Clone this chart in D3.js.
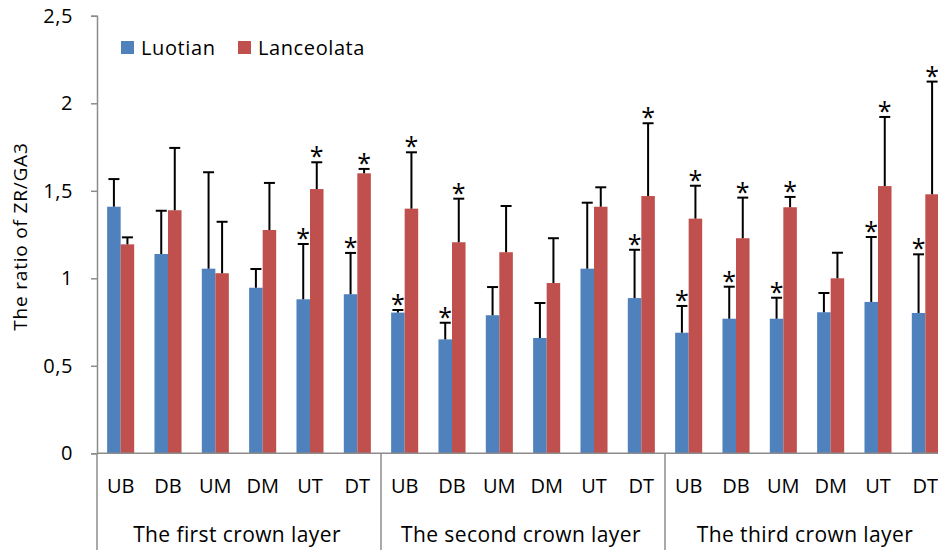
<!DOCTYPE html>
<html><head><meta charset="utf-8">
<script src="https://cdn.jsdelivr.net/npm/d3@7/dist/d3.min.js"></script>
<style>
html,body{margin:0;padding:0;background:#fff;}
svg{display:block;}
text{font-family:"Open Sans",sans-serif;fill:#000;}
</style></head>
<body><svg id="c" width="938" height="550"></svg>
<script>
const categories = ["UB","DB","UM","DM","UT","DT"];
const groups = ["The first crown layer","The second crown layer","The third crown layer"];
const seriesNames = ["Luotian","Lanceolata"];
const yTicks = [0,0.5,1,1.5,2,2.5];
const yTickLabels = ["0","0,5","1","1,5","2","2,5"];
const luotian = [1.409,1.139,1.055,0.946,0.880,0.909, 0.804,0.651,0.789,0.659,1.055,0.887, 0.689,0.769,0.769,0.806,0.865,0.802];
const luotianErr = [0.158,0.247,0.551,0.107,0.316,0.236, 0.015,0.095,0.161,0.200,0.377,0.276, 0.153,0.183,0.120,0.110,0.371,0.335];
const lanceolata = [1.194,1.389,1.029,1.276,1.510,1.600, 1.398,1.206,1.149,0.973,1.409,1.470, 1.341,1.229,1.406,1.000,1.527,1.480];
const lanceolataErr = [0.040,0.356,0.294,0.269,0.153,0.025, 0.322,0.249,0.264,0.256,0.111,0.416, 0.188,0.232,0.059,0.146,0.395,0.644];
const luotianSig = [0,0,0,0,1,1, 1,1,0,0,0,1, 1,1,1,0,1,1];
const lanceolataSig = [0,0,0,0,1,1, 1,1,0,0,0,1, 1,1,1,0,1,1];
const colors = ["#4F81BD","#C0504D"];

(function(){
const svg = d3.select("#c");
const mLeft = 97, mRight = 949, mTop = 15.8, mBottom = 453.3;
const axisColor = "#8c8c8c";
const fs = "19px";

const keys = d3.range(groups.length * categories.length);
const x0 = d3.scaleBand().domain(keys).range([mLeft, mRight]).paddingInner(0).paddingOuter(0);
const x1 = d3.scaleBand().domain(seriesNames).range([0, x0.bandwidth()]).paddingInner(0).paddingOuter(0.75);
const y = d3.scaleLinear().domain([0, 2.5]).range([mBottom, mTop]);
const gx = d3.scaleBand().domain(groups).range([mLeft, mRight]);

const rows = keys.map(i => ({
  i, cat: categories[i % categories.length], grp: groups[Math.floor(i / categories.length)],
  vals: [
    {s: seriesNames[0], v: luotian[i], e: luotianErr[i], sig: luotianSig[i], c: colors[0]},
    {s: seriesNames[1], v: lanceolata[i], e: lanceolataErr[i], sig: lanceolataSig[i], c: colors[1]}
  ]
}));

// Y axis
const yAxis = d3.axisLeft(y).tickValues(yTicks).tickFormat((d,i) => yTickLabels[i]).tickSize(6).tickPadding(18);
const gy = svg.append("g").attr("transform", `translate(${mLeft},0)`).call(yAxis);
gy.select(".domain").attr("stroke", axisColor).attr("stroke-width", 1.5);
gy.selectAll(".tick line").attr("stroke", axisColor).attr("stroke-width", 1.5);
gy.selectAll(".tick text").style("font-size", "20px").style("letter-spacing", "0.6px")
  .style("font-family", "'Open Sans',sans-serif").attr("fill", "#000");

// bars
const cg = svg.append("g").selectAll("g").data(rows).join("g")
  .attr("transform", d => `translate(${x0(d.i)},0)`);
cg.selectAll("rect").data(d => d.vals).join("rect")
  .attr("x", d => x1(d.s)).attr("width", x1.bandwidth())
  .attr("y", d => y(d.v)).attr("height", d => y(0) - y(d.v))
  .attr("fill", d => d.c);

// error bars (upper)
const eb = cg.selectAll("g.eb").data(d => d.vals).join("g").attr("class", "eb");
eb.append("line")
  .attr("x1", d => x1(d.s) + x1.bandwidth()/2).attr("x2", d => x1(d.s) + x1.bandwidth()/2)
  .attr("y1", d => y(d.v)).attr("y2", d => y(d.v + d.e))
  .attr("stroke", "#000").attr("stroke-width", 2);
eb.append("line")
  .attr("x1", d => x1(d.s) + x1.bandwidth()/2 - 5.5).attr("x2", d => x1(d.s) + x1.bandwidth()/2 + 5.5)
  .attr("y1", d => y(d.v + d.e)).attr("y2", d => y(d.v + d.e))
  .attr("stroke", "#000").attr("stroke-width", 2);
eb.filter(d => d.sig).append("text")
  .attr("x", d => x1(d.s) + x1.bandwidth()/2)
  .attr("y", d => y(d.v + d.e) + 3)
  .attr("text-anchor", "middle").style("font-size", "25px").text("*");

// X axis
const xAxisG = svg.append("g");
xAxisG.append("line").attr("x1", mLeft).attr("x2", mRight).attr("y1", mBottom).attr("y2", mBottom)
  .attr("stroke", axisColor).attr("stroke-width", 1.5);
xAxisG.selectAll("line.sep").data(groups.concat(["end"])).join("line").attr("class", "sep")
  .attr("x1", (d,i) => i < groups.length ? gx(d) : mRight).attr("x2", (d,i) => i < groups.length ? gx(d) : mRight)
  .attr("y1", mBottom).attr("y2", 550).attr("stroke", axisColor).attr("stroke-width", 1.5);
xAxisG.selectAll("text.cat").data(rows).join("text").attr("class", "cat")
  .attr("x", d => x0(d.i) + x0.bandwidth()/2).attr("y", 493)
  .attr("text-anchor", "middle").style("font-size", "20px").text(d => d.cat);
xAxisG.selectAll("text.grp").data(groups).join("text").attr("class", "grp")
  .attr("x", d => gx(d) + gx.bandwidth()/2 - 2).attr("y", 542)
  .attr("text-anchor", "middle").style("font-size", "21px").style("letter-spacing", "0.4px").text(d => d);

// Y title
svg.append("text").attr("transform", `translate(27,${(mTop+mBottom)/2 + 2}) rotate(-90)`)
  .attr("text-anchor", "middle").style("font-size", fs).style("letter-spacing", "0.8px").text("The ratio of ZR/GA3");

// Legend
const legX = [121, 238];
const lg = svg.append("g").selectAll("g").data(seriesNames).join("g")
  .attr("transform", (d,i) => `translate(${legX[i]},41)`);
lg.append("rect").attr("width", 13).attr("height", 13).attr("fill", (d,i) => colors[i]);
lg.append("text").attr("x", 20).attr("y", 13.5).style("font-size", "20px").style("letter-spacing", "0.6px").text(d => d);
})();
</script></body></html>
